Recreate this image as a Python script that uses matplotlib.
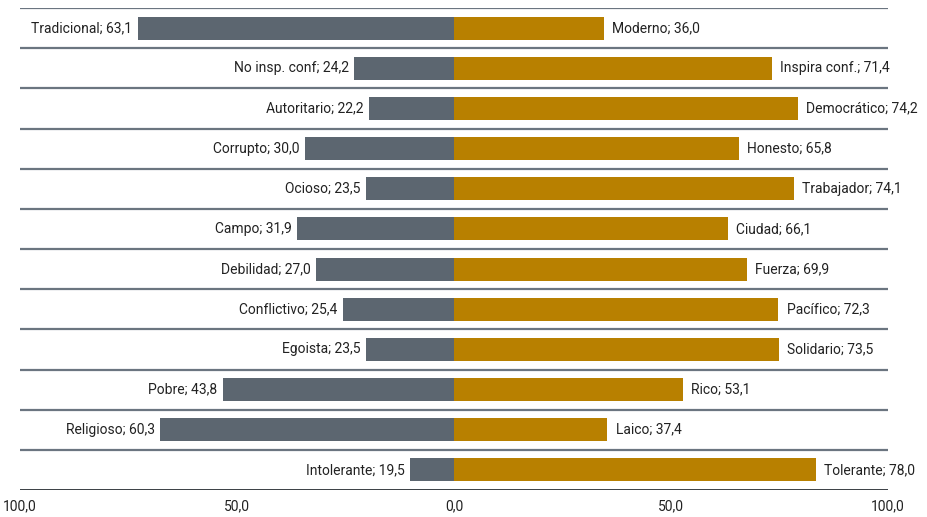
import numpy as np
import matplotlib
matplotlib.use("Agg")
import matplotlib.pyplot as plt

plt.rcParams['font.family'] = ['Roboto', 'DejaVu Sans']

# left (negative) side
neg_names = ["Tradicional", "No insp. conf", "Autoritario", "Corrupto", "Ocioso", "Campo",
             "Debilidad", "Conflictivo", "Egoista", "Pobre", "Religioso", "Intolerante"]
neg_labels = [63.1, 24.2, 22.2, 30.0, 23.5, 31.9, 27.0, 25.4, 23.5, 43.8, 60.3, 19.5]
neg_bars = [72.8, 23.0, 19.6, 34.3, 20.3, 36.2, 31.8, 25.6, 20.3, 53.2, 67.7, 10.1]

# right (positive) side
pos_names = ["Moderno", "Inspira conf.", "Democrático", "Honesto", "Trabajador", "Ciudad",
             "Fuerza", "Pacífico", "Solidario", "Rico", "Laico", "Tolerante"]
pos_labels = [36.0, 71.4, 74.2, 65.8, 74.1, 66.1, 69.9, 72.3, 73.5, 53.1, 37.4, 78.0]
pos_bars = [34.6, 73.3, 79.3, 65.7, 78.3, 63.1, 67.5, 74.7, 74.9, 52.8, 35.3, 83.4]

ticks = [-100, -50, 0, 50, 100]
tick_labels = ["100,0", "50,0", "0,0", "50,0", "100,0"]

grey = '#5c6670'
gold = '#b88000'

def fmt(v):
    return f"{v:.1f}".replace('.', ',')

fig = plt.figure(figsize=(9.27, 5.17), dpi=100)
ax = fig.add_axes([20/927, 1 - 490/517, 868/927, 482/517])

y = np.arange(len(neg_names))
h = 0.57
ax.barh(y, [-v for v in neg_bars], height=h, color=grey, zorder=2)
ax.barh(y, pos_bars, height=h, color=gold, zorder=2)

for i in range(len(y)):
    ax.annotate(f"{neg_names[i]}; {fmt(neg_labels[i])}", (-neg_bars[i], y[i]),
                xytext=(-4, 0), textcoords='offset points', ha='right', va='center',
                fontsize=10, color='#222222', zorder=3)
    ax.annotate(f"{pos_names[i]}; {fmt(pos_labels[i])}", (pos_bars[i], y[i]),
                xytext=(6, 0), textcoords='offset points', ha='left', va='center',
                fontsize=10, color='#222222', zorder=3)

for k in range(len(y)):
    ax.axhline(k - 0.5, color='#6b7580', lw=1.6, zorder=1)
ax.axhline(len(y) - 0.5, color='#3a3f44', lw=1.4, zorder=1)

ax.set_xlim(-100, 100)
ax.set_ylim(len(y) - 0.5, -0.5)
ax.set_xticks(ticks)
ax.set_xticklabels(tick_labels, fontsize=10, color='#222222')
ax.tick_params(axis='x', length=0, pad=7)
ax.set_yticks([])
for s in ax.spines.values():
    s.set_visible(False)

fig.savefig("out.png", dpi=100)
